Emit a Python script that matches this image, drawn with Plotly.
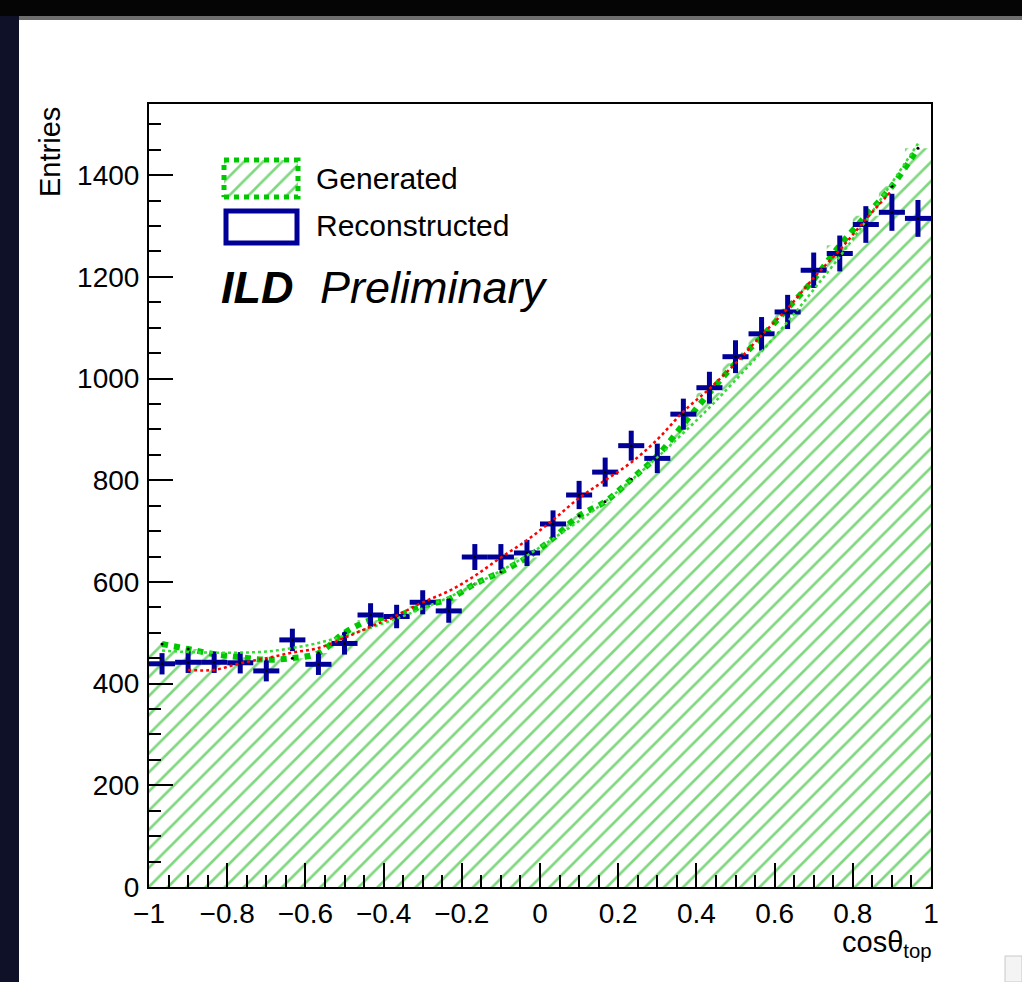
import numpy as np
import plotly.graph_objects as go

# ---------------- data ----------------
n_bins = 30
x_lo, x_hi = -1.0, 1.0

generated = [478, 468, 458, 452, 447, 450, 460, 500, 525, 533,
             553, 566, 596, 620, 648, 686, 730, 758, 802, 848,
             910, 972, 1030, 1082, 1138, 1195, 1262, 1320, 1378, 1453]

reconstructed = [439, 442, 442, 441, 425, 486, 438, 479, 535, 532,
                 560, 543, 649, 649, 657, 714, 771, 816, 868, 843,
                 930, 982, 1043, 1088, 1131, 1213, 1246, 1303, 1327, 1315]

# fit curves (sampled at bin centres)
gen_fit = [465, 462, 461, 461, 463, 470, 480, 494, 510, 528,
           548, 570, 595, 622, 652, 685, 720, 758, 800, 845,
           893, 943, 997, 1053, 1112, 1175, 1240, 1310, 1385, 1462]
# reconstructed fit, sampled at bin centres 2..29
reco_fit = [427, 427, 440, 450, 461, 470, 490, 512, 534, 560,
            582, 612, 648, 682, 722, 765, 800, 835, 880, 935,
            980, 1030, 1085, 1138, 1198, 1253, 1313, 1370]

y_range = [0, 1540]
x_ticks = [-1, -0.8, -0.6, -0.4, -0.2, 0, 0.2, 0.4, 0.6, 0.8, 1]
y_ticks = [0, 200, 400, 600, 800, 1000, 1200, 1400]

# ---------------- derived ----------------
edges = np.linspace(x_lo, x_hi, n_bins + 1)
centers = 0.5 * (edges[:-1] + edges[1:])
half_w = 0.5 * (edges[1] - edges[0])
reco_err = np.sqrt(np.array(reconstructed, dtype=float))

W, H = 1022, 982
L, R, T, B = 149, 91, 104, 95
PW, PH = W - L - R, H - T - B


def px(xp):
    return (xp - L) / PW


def py(yp):
    return (H - B - yp) / PH


GREEN = "#00c800"
NAVY = "#000099"
FONT = "Liberation Sans, Arial, Helvetica, sans-serif"
HATCH = dict(shape="/", fgcolor="#00b000", bgcolor="rgba(255,255,255,0)",
             size=13.5, solidity=0.2)

fig = go.Figure()

# hatched fill of generated histogram
fig.add_trace(go.Scatter(
    x=list(edges), y=list(generated) + [generated[-1]],
    mode="lines", line=dict(shape="hv", width=0, color=GREEN),
    fill="tozeroy", fillcolor="rgba(0,0,0,0)",
    fillpattern=HATCH,
    hoverinfo="skip", showlegend=False))

# generated smooth dotted curve
fig.add_trace(go.Scatter(
    x=centers, y=generated, mode="lines+markers",
    line=dict(color=GREEN, width=6, dash="dot", shape="spline", smoothing=1.0),
    marker=dict(size=3, color="black"),
    showlegend=False))

# reconstructed crosses
fig.add_trace(go.Scatter(
    x=centers, y=reconstructed, mode="markers",
    marker=dict(size=3, color="black"),
    error_x=dict(type="constant", value=half_w, color=NAVY, thickness=5, width=0),
    error_y=dict(type="data", array=reco_err, color=NAVY, thickness=5, width=0),
    showlegend=False))

# fits
fig.add_trace(go.Scatter(
    x=centers, y=gen_fit, mode="lines",
    line=dict(color="#33dd33", width=2.5, dash="dot", shape="spline"),
    showlegend=False))
fig.add_trace(go.Scatter(
    x=centers[1:29], y=reco_fit, mode="lines",
    line=dict(color="#ff0000", width=2.5, dash="dot", shape="spline"),
    showlegend=False))

# legend swatch (hatched) on overlay axes
sx0, sx1 = px(224), px(298)
sy0, sy1 = py(197), py(160)
fig.add_trace(go.Scatter(
    x=[sx0, sx1, sx1, sx0, sx0], y=[sy0, sy0, sy1, sy1, sy0],
    xaxis="x2", yaxis="y2", mode="lines", fill="toself",
    fillcolor="rgba(0,0,0,0)",
    fillpattern=HATCH,
    line=dict(color=GREEN, width=5, dash="dot"),
    hoverinfo="skip", showlegend=False))

axis_common = dict(
    showline=True, linecolor="black", linewidth=2, mirror=True,
    ticks="inside", tickcolor="black", tickwidth=1.5,
    showgrid=False, zeroline=False,
    tickfont=dict(family=FONT, size=28, color="black"),
)

fig.update_layout(
    width=W, height=H,
    margin=dict(l=L, r=R, t=T, b=B, pad=0),
    paper_bgcolor="white", plot_bgcolor="white",
    xaxis=dict(range=[x_lo, x_hi], tickvals=x_ticks, ticklen=24,
               minor=dict(dtick=0.05, tick0=-1, ticklen=12, ticks="inside",
                          tickcolor="black", tickwidth=1.5),
               ticklabelstandoff=0, **axis_common),
    yaxis=dict(range=y_range, tickvals=y_ticks, ticklen=24,
               minor=dict(dtick=50, tick0=0, ticklen=12, ticks="inside",
                          tickcolor="black", tickwidth=1.5),
               ticklabelstandoff=2, **axis_common),
    xaxis2=dict(overlaying="x", range=[0, 1], visible=False, fixedrange=True),
    yaxis2=dict(overlaying="y", range=[0, 1], visible=False, fixedrange=True),
    showlegend=False,
)

shapes = []
# reconstructed legend box
shapes.append(dict(type="rect", xref="paper", yref="paper",
                   x0=px(226), x1=px(297), y0=py(243), y1=py(211),
                   line=dict(color=NAVY, width=5), fillcolor="white"))
# dark window frame
shapes.append(dict(type="rect", xref="paper", yref="paper",
                   x0=px(0), x1=px(W), y0=py(18), y1=py(0),
                   line=dict(width=0), fillcolor="#050505", layer="above"))
shapes.append(dict(type="rect", xref="paper", yref="paper",
                   x0=px(0), x1=px(W), y0=py(20), y1=py(16),
                   line=dict(width=0), fillcolor="#6e6e6e", layer="above"))
shapes.append(dict(type="rect", xref="paper", yref="paper",
                   x0=px(0), x1=px(19), y0=py(H), y1=py(16),
                   line=dict(width=0), fillcolor="#0e1128", layer="above"))
# small resize widget
shapes.append(dict(type="rect", xref="paper", yref="paper",
                   x0=px(1005), x1=px(1022), y0=py(982), y1=py(956),
                   line=dict(color="#c8c8c8", width=1), fillcolor="#f4f4f4"))
fig.update_layout(shapes=shapes)

ann = []
ann.append(dict(text="Generated", x=px(314), y=py(178), xref="paper", yref="paper",
                xanchor="left", yanchor="middle", showarrow=False,
                font=dict(family=FONT, size=30, color="black")))
ann.append(dict(text="Reconstructed", x=px(314), y=py(226), xref="paper", yref="paper",
                xanchor="left", yanchor="middle", showarrow=False,
                font=dict(family=FONT, size=30, color="black")))
ann.append(dict(text="<b><i>ILD</i></b>", x=px(219), y=py(287), xref="paper", yref="paper",
                xanchor="left", yanchor="middle", showarrow=False,
                font=dict(family=FONT, size=45, color="black")))
ann.append(dict(text="<i>Preliminary</i>", x=px(318), y=py(287), xref="paper", yref="paper",
                xanchor="left", yanchor="middle", showarrow=False,
                font=dict(family=FONT, size=45, color="black")))
ann.append(dict(text="Entries", x=px(50), y=py(152), xref="paper", yref="paper",
                xanchor="center", yanchor="middle", textangle=-90, showarrow=False,
                font=dict(family=FONT, size=29, color="black")))
ann.append(dict(text="cosθ<sub>top</sub>", x=px(933), y=py(944), xref="paper", yref="paper",
                xanchor="right", yanchor="middle", showarrow=False,
                font=dict(family=FONT, size=29, color="black")))
fig.update_layout(annotations=ann)

fig.write_html("out.html")
